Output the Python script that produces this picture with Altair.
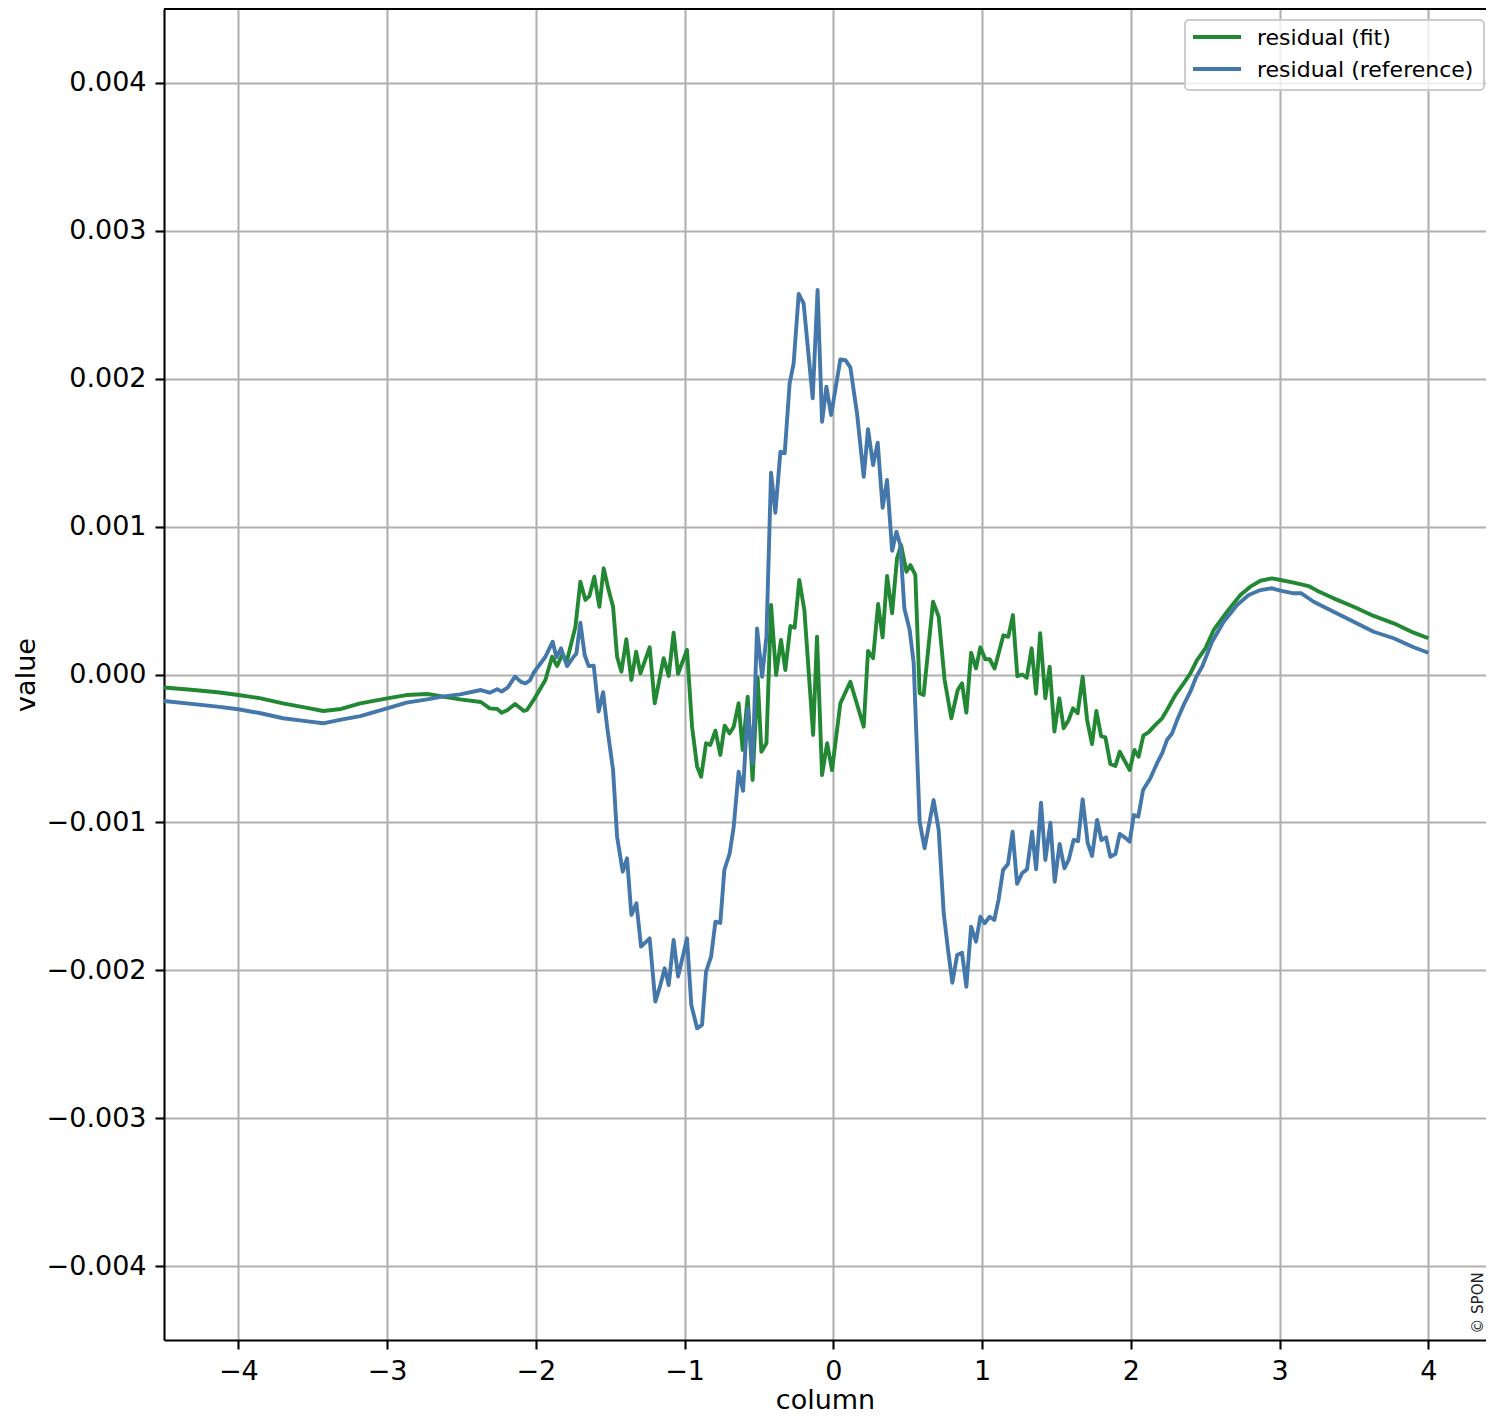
import altair as alt
import pandas as pd

# values are in units of 1e-3 (converted below)
green_x = [-4.50, -4.30, -4.14, -4.00, -3.85, -3.70, -3.52, -3.43, -3.31, -3.18,
           -3.00, -2.87, -2.73, -2.51, -2.37, -2.31, -2.26, -2.23, -2.19, -2.14,
           -2.08, -2.06, -2.015, -1.936, -1.891, -1.857, -1.824, -1.790, -1.734, -1.701,
           -1.667, -1.640, -1.607, -1.573, -1.544, -1.511, -1.481, -1.454, -1.425, -1.392,
           -1.358, -1.326, -1.297, -1.235, -1.201, -1.141, -1.107, -1.074, -1.044, -0.984,
           -0.950, -0.916, -0.889, -0.856, -0.827, -0.793, -0.760, -0.731, -0.697, -0.670,
           -0.637, -0.610, -0.576, -0.543, -0.509, -0.484, -0.450, -0.419, -0.385, -0.352,
           -0.323, -0.289, -0.260, -0.229, -0.195, -0.136, -0.110, -0.076, -0.042, -0.009,
           0.047, 0.114, 0.204, 0.233, 0.267, 0.301, 0.331, 0.361, 0.395, 0.428,
           0.455, 0.491, 0.518, 0.551, 0.580, 0.607, 0.670, 0.708, 0.748, 0.793,
           0.836, 0.865, 0.894, 0.926, 0.959, 0.988, 1.022, 1.051, 1.084, 1.143,
           1.176, 1.207, 1.237, 1.269, 1.300, 1.333, 1.363, 1.390, 1.425, 1.454,
           1.486, 1.519, 1.548, 1.582, 1.611, 1.642, 1.676, 1.706, 1.739, 1.768,
           1.800, 1.829, 1.862, 1.896, 1.925, 1.958, 1.992, 2.024, 2.052, 2.084,
           2.120, 2.165, 2.210, 2.243, 2.299, 2.355, 2.400, 2.445, 2.501, 2.557,
           2.647, 2.736, 2.803, 2.871, 2.949, 3.005, 3.094, 3.195, 3.252, 3.363,
           3.498, 3.632, 3.767, 3.901, 4.000]
green_v = [-0.088, -0.105, -0.120, -0.139, -0.161, -0.195, -0.229, -0.247, -0.233, -0.195,
           -0.161, -0.139, -0.132, -0.168, -0.186, -0.229, -0.233, -0.258, -0.240, -0.200,
           -0.247, -0.240, -0.172, -0.037, 0.120, 0.057, 0.132, 0.098, 0.323, 0.627,
           0.504, 0.530, 0.661, 0.458, 0.718, 0.571, 0.458, 0.120, 0.019, 0.238,
           -0.037, 0.154, 0.008, 0.184, -0.195, 0.110, -0.010, 0.283, 0.005, 0.166,
           -0.353, -0.623, -0.691, -0.465, -0.476, -0.380, -0.544, -0.346, -0.398, -0.353,
           -0.195, -0.510, -0.150, -0.713, -0.020, -0.522, -0.465, 0.470, -0.003, 0.233,
           0.030, 0.328, 0.317, 0.639, 0.436, -0.409, 0.256, -0.680, -0.465, -0.646,
           -0.195, -0.049, -0.353, 0.159, 0.110, 0.477, 0.251, 0.666, 0.414, 0.786,
           0.876, 0.695, 0.740, 0.673, -0.127, -0.138, 0.492, 0.391, -0.037, -0.296,
           -0.105, -0.060, -0.258, 0.147, 0.042, 0.184, 0.103, 0.103, 0.040, 0.265,
           0.255, 0.402, -0.012, 0.000, -0.022, 0.177, -0.130, 0.279, -0.161, 0.053,
           -0.386, -0.161, -0.364, -0.308, -0.229, -0.262, -0.015, -0.308, -0.470, -0.247,
           -0.416, -0.425, -0.605, -0.619, -0.522, -0.583, -0.646, -0.510, -0.556, -0.413,
           -0.390, -0.341, -0.296, -0.240, -0.139, -0.060, 0.008, 0.098, 0.177, 0.301,
           0.425, 0.538, 0.594, 0.634, 0.650, 0.639, 0.621, 0.598, 0.567, 0.515,
           0.458, 0.396, 0.346, 0.283, 0.245]

blue_x = [-4.50, -4.30, -4.14, -4.00, -3.85, -3.70, -3.52, -3.43, -3.31, -3.18,
          -3.00, -2.87, -2.73, -2.63, -2.51, -2.37, -2.31, -2.26, -2.23, -2.19,
          -2.14, -2.10, -2.07, -2.04, -2.015, -1.936, -1.887, -1.862, -1.831, -1.790,
          -1.746, -1.728, -1.701, -1.672, -1.645, -1.611, -1.578, -1.548, -1.521, -1.481,
          -1.454, -1.416, -1.387, -1.358, -1.324, -1.293, -1.235, -1.197, -1.163, -1.134,
          -1.107, -1.074, -1.044, -0.984, -0.955, -0.916, -0.883, -0.856, -0.822, -0.793,
          -0.760, -0.733, -0.697, -0.670, -0.637, -0.607, -0.576, -0.543, -0.513, -0.479,
          -0.450, -0.419, -0.390, -0.356, -0.327, -0.294, -0.267, -0.233, -0.200, -0.139,
          -0.106, -0.076, -0.047, -0.015, 0.047, 0.081, 0.114, 0.159, 0.204, 0.233,
          0.267, 0.298, 0.331, 0.361, 0.395, 0.424, 0.450, 0.477, 0.513, 0.540,
          0.580, 0.613, 0.674, 0.708, 0.742, 0.771, 0.800, 0.832, 0.865, 0.894,
          0.926, 0.959, 0.988, 1.017, 1.051, 1.082, 1.111, 1.141, 1.174, 1.205,
          1.235, 1.269, 1.302, 1.336, 1.363, 1.396, 1.425, 1.459, 1.488, 1.521,
          1.553, 1.582, 1.615, 1.645, 1.676, 1.710, 1.739, 1.773, 1.802, 1.833,
          1.862, 1.896, 1.925, 1.958, 1.992, 2.020, 2.050, 2.082, 2.131, 2.176,
          2.210, 2.243, 2.277, 2.311, 2.355, 2.400, 2.440, 2.479, 2.546, 2.624,
          2.714, 2.792, 2.871, 2.949, 3.005, 3.094, 3.146, 3.229, 3.363, 3.498,
          3.632, 3.767, 3.901, 4.000]
blue_v = [-0.179, -0.200, -0.217, -0.235, -0.262, -0.296, -0.319, -0.330, -0.305, -0.281,
          -0.229, -0.190, -0.168, -0.150, -0.134, -0.105, -0.123, -0.100, -0.115, -0.089,
          -0.015, -0.050, -0.060, -0.040, 0.012, 0.120, 0.222, 0.116, 0.177, 0.057,
          0.120, 0.140, 0.350, 0.132, 0.057, 0.060, -0.251, -0.120, -0.353, -0.646,
          -1.097, -1.333, -1.243, -1.626, -1.547, -1.840, -1.784, -2.212, -2.100, -1.987,
          -2.100, -1.795, -2.043, -1.784, -2.235, -2.392, -2.370, -2.009, -1.908, -1.671,
          -1.680, -1.322, -1.209, -1.029, -0.657, -0.786, -0.229, -0.600, 0.312, -0.015,
          0.256, 1.364, 1.094, 1.507, 1.496, 1.969, 2.104, 2.573, 2.510, 1.867,
          2.600, 1.709, 1.946, 1.755, 2.131, 2.126, 2.077, 1.766, 1.337, 1.658,
          1.416, 1.567, 1.128, 1.315, 0.837, 0.966, 0.876, 0.448, 0.301, 0.076,
          -0.995, -1.175, -0.849, -1.051, -1.615, -1.863, -2.084, -1.897, -1.881, -2.111,
          -1.705, -1.807, -1.638, -1.682, -1.638, -1.660, -1.520, -1.322, -1.281, -1.063,
          -1.416, -1.344, -1.317, -1.063, -1.317, -0.867, -1.254, -1.002, -1.401, -1.146,
          -1.310, -1.254, -1.119, -1.126, -0.844, -1.141, -1.227, -0.984, -1.119, -1.101,
          -1.232, -1.214, -1.078, -1.101, -1.130, -0.950, -0.961, -0.781, -0.702, -0.600,
          -0.533, -0.443, -0.398, -0.308, -0.206, -0.116, -0.015, 0.053, 0.222, 0.357,
          0.470, 0.538, 0.571, 0.583, 0.567, 0.549, 0.549, 0.492, 0.425, 0.357,
          0.289, 0.245, 0.184, 0.147]

series_names = ["residual (fit)", "residual (reference)"]
series_colors = ["#228833", "#4477AA"]
x_ticks = [-4, -3, -2, -1, 0, 1, 2, 3, 4]
y_ticks = [-0.004, -0.003, -0.002, -0.001, 0.0, 0.001, 0.002, 0.003, 0.004]

assert len(green_x) == len(green_v)
assert len(blue_x) == len(blue_v)

rows = []
for xv, v in zip(green_x, green_v):
    rows.append({"x": xv, "value": v / 1000.0, "series": series_names[0], "o": len(rows)})
for xv, v in zip(blue_x, blue_v):
    rows.append({"x": xv, "value": v / 1000.0, "series": series_names[1], "o": len(rows)})
df = pd.DataFrame(rows)

FONT = "DejaVu Sans"
W, H = 1322, 1331

lines = alt.Chart(df).mark_line(strokeWidth=3.9, strokeJoin="round").encode(
    x=alt.X("x:Q",
            scale=alt.Scale(domain=[-4.5, 4.3875], nice=False, zero=False),
            axis=alt.Axis(values=x_ticks, format="d", title="column",
                          titleBaseline="alphabetic", titleY=68)),
    y=alt.Y("value:Q",
            scale=alt.Scale(domain=[-0.0045, 0.0045], nice=False, zero=False),
            axis=alt.Axis(values=y_ticks, format=".3f", title="value",
                          titleBaseline="alphabetic", titleX=-130, titleY=665.5,
                          titleAngle=270)),
    color=alt.Color("series:N",
                    scale=alt.Scale(domain=series_names, range=series_colors),
                    legend=None),
    order="o:Q",
)

one = pd.DataFrame({"a": [0]})

top_spine = alt.Chart(one).mark_rule(color="black", strokeWidth=2.1).encode(
    x=alt.value(0), x2=alt.value(W), y=alt.value(0)
)

# legend drawn as a framed box with two entries
LX = 1021
legend_box = alt.Chart(one).mark_rect(
    fill="white", fillOpacity=0.8, stroke="#cccccc", strokeWidth=2, cornerRadius=4
).encode(x=alt.value(LX), x2=alt.value(LX + 299), y=alt.value(11), y2=alt.value(81))

legend_layers = []
for i, (name, col) in enumerate(zip(series_names, series_colors)):
    yy = 28 + 32 * i
    legend_layers.append(
        alt.Chart(one).mark_rule(color=col, strokeWidth=3.9).encode(
            x=alt.value(LX + 8), x2=alt.value(LX + 56), y=alt.value(yy))
    )
    legend_layers.append(
        alt.Chart(pd.DataFrame({"t": [name]})).mark_text(
            font=FONT, fontSize=22, color="black", align="left", baseline="middle"
        ).encode(text="t:N", x=alt.value(LX + 72), y=alt.value(yy + 1))
    )

watermark = alt.Chart(pd.DataFrame({"t": ["© SPON"]})).mark_text(
    angle=270, fontSize=15, font=FONT, color="#222222", align="center", baseline="alphabetic"
).encode(text="t:N", x=alt.value(1319), y=alt.value(1294))

chart = alt.layer(lines, top_spine, legend_box, *legend_layers, watermark).properties(
    width=W, height=H,
    autosize=alt.AutoSizeParams(type="none"),
    padding={"left": 156, "top": 1, "right": 0, "bottom": 73},
).configure_view(stroke=None).configure_axis(
    labelFont=FONT, labelFontSize=27, labelColor="black",
    titleFont=FONT, titleFontSize=27, titleColor="black", titleFontWeight="normal",
    tickColor="black", tickSize=9, tickWidth=2.1, labelPadding=9,
    domainColor="black", domainWidth=2.1,
    grid=True, gridColor="#b0b0b0", gridWidth=2.1,
)

chart.save("out.html", embed_options={"renderer": "svg", "actions": False})
